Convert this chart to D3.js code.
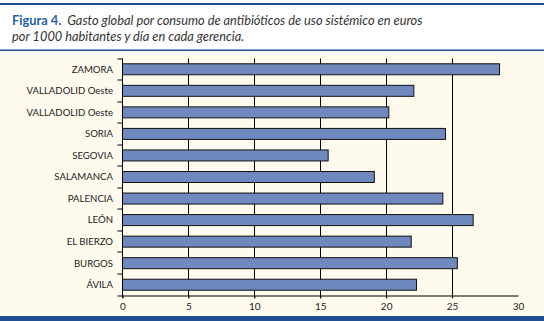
<!DOCTYPE html>
<html><head><meta charset="utf-8">
<script src="https://cdn.jsdelivr.net/npm/d3@7"></script>
<style>
html,body{margin:0;padding:0;background:#fff;}
svg{display:block;}
</style></head>
<body>
<script>
const categories = ["ZAMORA","VALLADOLID Oeste","VALLADOLID Oeste","SORIA","SEGOVIA","SALAMANCA","PALENCIA","LEÓN","EL BIERZO","BURGOS","ÁVILA"];
const values = [28.6,22.1,20.2,24.5,15.6,19.1,24.3,26.6,21.9,25.4,22.3];
const xTicks = [0,5,10,15,20,25,30];
const gridTicks = [5,10,15,20,25];

const W=544,H=321;
const svg=d3.select("body").append("svg").attr("width",W).attr("height",H);
const font="Lato, 'Open Sans', sans-serif";

// background panels
svg.append("rect").attr("x",0).attr("y",0).attr("width",W).attr("height",H).attr("fill","#ffffff");
svg.append("rect").attr("x",0).attr("y",51).attr("width",W).attr("height",265).attr("fill","#fffaee");
svg.append("rect").attr("x",0).attr("y",3).attr("width",W).attr("height",2).attr("fill","#1d4f91");
svg.append("rect").attr("x",0).attr("y",49.5).attr("width",W).attr("height",1.5).attr("fill","#1d4f91");
svg.append("rect").attr("x",0).attr("y",316).attr("width",W).attr("height",5).attr("fill","#1d4f91");

// title
const t1=svg.append("text").attr("x",12).attr("y",25).attr("font-family",font).attr("font-size",12.8).attr("fill","#333");
t1.append("tspan").attr("font-weight","bold").attr("fill","#1f5ea8").text("Figura 4.");
t1.append("tspan").attr("font-style","italic").attr("dx",6).text("Gasto global por consumo de antibióticos de uso sistémico en euros");
svg.append("text").attr("x",12).attr("y",40.5).attr("font-family",font).attr("font-size",12.8).attr("font-style","italic").attr("fill","#333")
  .text("por 1000 habitantes y día en cada gerencia.");

const x=d3.scaleLinear().domain([0,30]).range([122.5,518]);
const y=d3.scaleBand().domain(d3.range(categories.length)).range([58.5,295.5]).paddingInner(0.49).paddingOuter(0.245);

const g=svg.append("g");
// gridlines
g.selectAll("line.grid").data(gridTicks).join("line")
  .attr("x1",d=>Math.round(x(d))+0.5).attr("x2",d=>Math.round(x(d))+0.5)
  .attr("y1",58.5).attr("y2",298).attr("stroke","#000").attr("stroke-width",1);

// bars
g.selectAll("rect.bar").data(values).join("rect")
  .attr("x",x(0)).attr("y",(d,i)=>y(i)).attr("width",d=>x(d)-x(0)).attr("height",y.bandwidth())
  .attr("fill","#6f89be").attr("stroke","#111").attr("stroke-width",1);

// x axis
const xa=svg.append("g").attr("transform","translate(0,295.5)")
  .call(d3.axisBottom(x).tickValues(xTicks).tickSize(3).tickSizeOuter(0).tickPadding(4));
xa.select(".domain").attr("stroke","#000");
xa.selectAll(".tick line").attr("stroke","#000");
xa.selectAll(".tick").filter(d=>d===30).select("line").remove();
xa.selectAll("text").attr("font-family",font).attr("font-size",10).attr("fill","#222");

// y axis
const yb=d3.scaleBand().domain(categories.map((c,i)=>i)).range([58.5,295.5]);
const ya=svg.append("g").attr("transform","translate(122.5,0)");
ya.append("line").attr("x1",0).attr("x2",0).attr("y1",58.5).attr("y2",298).attr("stroke","#000");
ya.selectAll("line.yt").data(d3.range(categories.length+1)).join("line")
  .attr("x1",-5).attr("x2",0)
  .attr("y1",d=>Math.round(d<categories.length?yb(d):295.5))
  .attr("y2",d=>Math.round(d<categories.length?yb(d):295.5))
  .attr("stroke","#000");
ya.selectAll("text").data(categories).join("text")
  .attr("x",-9.5).attr("y",(d,i)=>y(i)+y.bandwidth()/2).attr("dy","0.35em")
  .attr("text-anchor","end").attr("font-family",font).attr("font-size",9.6).attr("fill","#222")
  .text(d=>d);
</script>
</body></html>
